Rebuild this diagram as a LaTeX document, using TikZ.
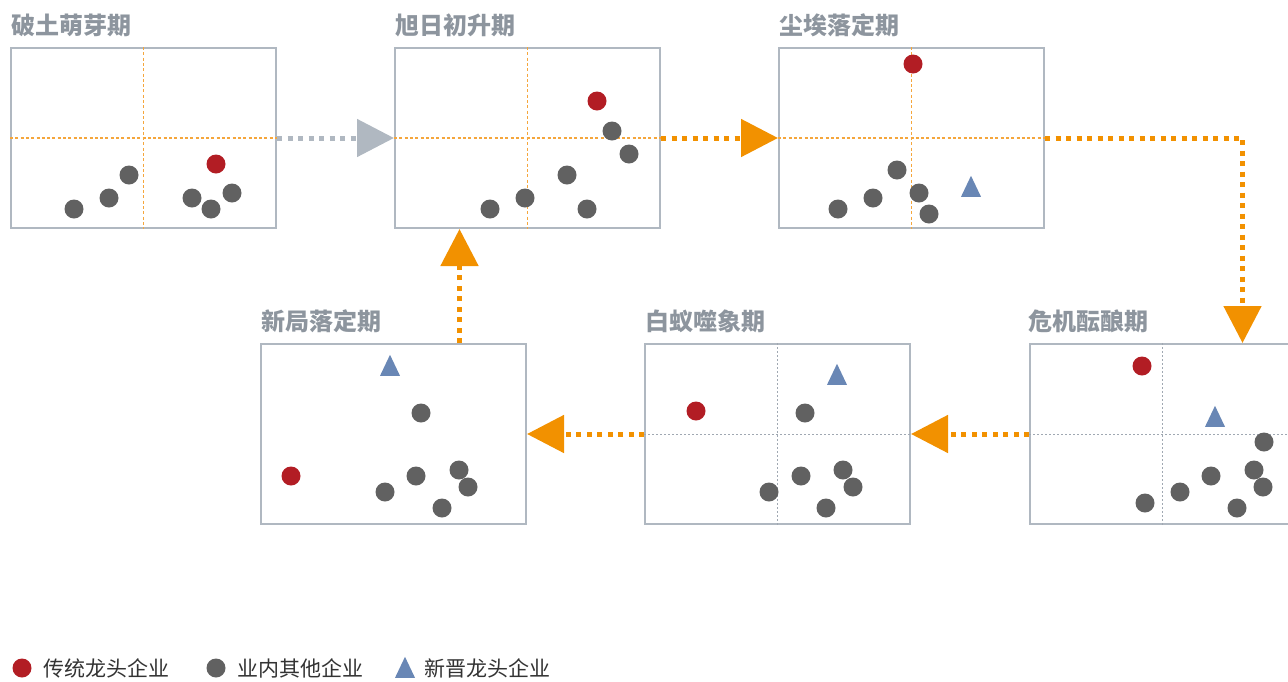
\documentclass[tikz,border=0pt]{standalone}
\usepackage{fontspec}
\usepackage{tikz}
\usetikzlibrary{shapes,arrows.meta,positioning,calc}
\newfontfamily\cjk{Noto Sans CJK SC}
\definecolor{oldlead}{RGB}{178,29,36}
\definecolor{peergray}{RGB}{97,97,97}
\definecolor{newlead}{RGB}{105,135,181}
\definecolor{flowgold}{RGB}{242,145,0}
\definecolor{axisgold}{RGB}{245,166,60}
\definecolor{framegray}{RGB}{176,184,193}
\definecolor{titlegray}{RGB}{141,149,158}
\definecolor{axisgray}{RGB}{160,168,178}

\begin{document}
\begin{tikzpicture}[x=1pt, y=1pt,
    stage/.style={rectangle, draw=framegray, line width=2pt, minimum width=265pt, minimum height=180pt, inner sep=0pt},
    stagetitle/.style={anchor=base west, inner sep=0pt, text=titlegray, font=\cjk\bfseries\fontsize{24}{24}\selectfont},
    firm/.style={circle, inner sep=0pt, minimum size=19pt, fill=#1},
    leader/.style={firm=oldlead},
    peer/.style={firm=peergray},
    riser/.style={isosceles triangle, isosceles triangle stretches, shape border rotate=90, inner sep=0pt, minimum width=20pt, minimum height=21pt, fill=newlead, yshift=-3.5pt},
    warmaxis/.style={axisgold, line width=1.2pt, dash pattern=on 3pt off 2.3pt},
    coolaxis/.style={axisgray, line width=0.8pt, dash pattern=on 2pt off 2pt},
    flow/.style={flowgold, line width=5pt, dash pattern=on 5pt off 5.5pt, -{Triangle[length=37pt, width=37pt]}},
    legendtext/.style={right=12pt of #1, inner sep=0pt, text=black!80, font=\cjk\fontsize{21}{21}\selectfont}
]
    \useasboundingbox (0,0) rectangle (1288,-681);

    % Stages, top row left to right, bottom row right to left
    \node[stage] (stage1) at (143.5,-138) {};
    \node[stage] (stage2) at (527.5,-138) {};
    \node[stage] (stage3) at (911.5,-138) {};
    \node[stage] (stage4) at (1162.5,-434) {};
    \node[stage] (stage5) at (777.5,-434) {};
    \node[stage] (stage6) at (393.5,-434) {};

    \node[stagetitle] (title1) at ([yshift=13pt, xshift=1pt]stage1.north west) {破土萌芽期};
    \node[stagetitle] (title2) at ([yshift=13pt, xshift=1pt]stage2.north west) {旭日初升期};
    \node[stagetitle] (title3) at ([yshift=13pt, xshift=1pt]stage3.north west) {尘埃落定期};
    \node[stagetitle] (title4) at ([yshift=13pt, xshift=-1pt]stage4.north west) {危机酝酿期};
    \node[stagetitle] (title5) at ([yshift=13pt, xshift=1pt]stage5.north west) {白蚁噬象期};
    \node[stagetitle] (title6) at ([yshift=13pt, xshift=1pt]stage6.north west) {新局落定期};

    % Axes
    \foreach \s in {1,2,3}
        \draw[warmaxis] (stage\s.north) -- (stage\s.south) (stage\s.west) -- (stage\s.east);
    \foreach \s in {4,5}
        \draw[coolaxis] (stage\s.north) -- (stage\s.south) (stage\s.west) -- (stage\s.east);

    % Firms in each stage
    \foreach \x/\y [count=\i] in {74/209, 109/198, 129/175, 192/198, 211/209, 232/193}
        \node[peer] (peer1-\i) at (\x,-\y) {};
    \node[leader] (leader1) at (216,-164) {};

    \foreach \x/\y [count=\i] in {612/131, 629/154, 567/175, 525/198, 490/209, 587/209}
        \node[peer] (peer2-\i) at (\x,-\y) {};
    \node[leader] (leader2) at (597,-101) {};

    \foreach \x/\y [count=\i] in {897/170, 873/198, 838/209, 919/193, 929/214}
        \node[peer] (peer3-\i) at (\x,-\y) {};
    \node[leader] (leader3) at (913,-64) {};
    \node[riser] (riser3) at (971,-187) {};

    \foreach \x/\y [count=\i] in {1264/442, 1254/470, 1263/487, 1211/476, 1180/492, 1145/503, 1237/508}
        \node[peer] (peer4-\i) at (\x,-\y) {};
    \node[leader] (leader4) at (1142,-366) {};
    \node[riser] (riser4) at (1215,-417) {};

    \foreach \x/\y [count=\i] in {805/413, 801/476, 843/470, 853/487, 769/492, 826/508}
        \node[peer] (peer5-\i) at (\x,-\y) {};
    \node[leader] (leader5) at (696,-411) {};
    \node[riser] (riser5) at (837,-375) {};

    \foreach \x/\y [count=\i] in {421/413, 416/476, 459/470, 468/487, 385/492, 442/508}
        \node[peer] (peer6-\i) at (\x,-\y) {};
    \node[leader] (leader6) at (291,-476) {};
    \node[riser] (riser6) at (390,-366) {};

    % Connections
    \draw[flow, framegray] (stage1.east) -- (stage2.west);
    \draw[flow] (stage2.east) -- (stage3.west);
    \draw[flow] (stage3.east) -| ([xshift=80pt]stage4.north);
    \draw[flow] (stage4.west) -- (stage5.east);
    \draw[flow] (stage5.west) -- (stage6.east);
    \draw[flow] ([xshift=66pt]stage6.north) -- ([xshift=66pt]stage6.north |- stage2.south);

    % Legend
    \node[leader] (keyold) at (22,-668) {};
    \node[legendtext=keyold] (keyoldtext) {传统龙头企业};
    \node[peer] (keypeer) at (216,-668) {};
    \node[legendtext=keypeer] (keypeertext) {业内其他企业};
    \node[riser] (keynew) at (405,-668) {};
    \node[legendtext=keynew, yshift=3.5pt] (keynewtext) {新晋龙头企业};
\end{tikzpicture}
\end{document}
